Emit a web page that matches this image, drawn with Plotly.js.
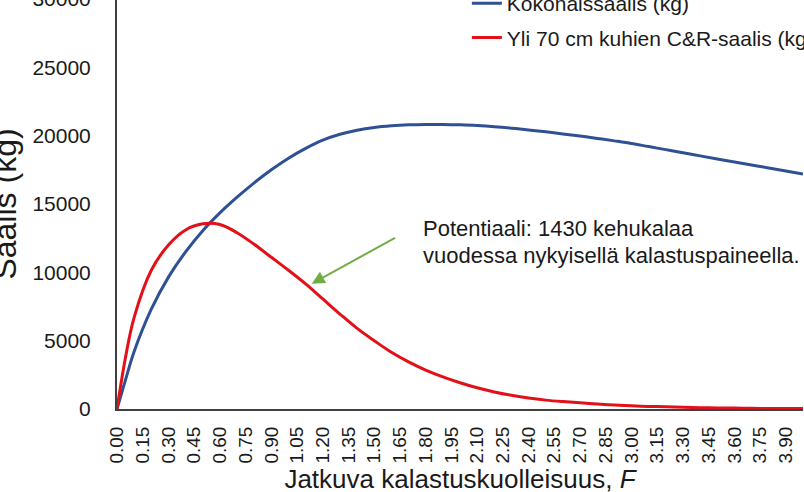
<!DOCTYPE html>
<html>
<head>
<meta charset="utf-8">
<script src="https://cdn.plot.ly/plotly-3.0.1.min.js"></script>
<style>
  html, body { margin: 0; padding: 0; overflow: hidden; background: #fff; }
  #chart { position: absolute; left: -40px; top: -30px; width: 880px; height: 540px; }
</style>
</head>
<body>
<div id="chart"></div>
<script>
// fishing mortality F (x) and catches in kg
var F = [0, 0.05, 0.1, 0.2, 0.3, 0.4, 0.5, 0.6, 0.7, 0.8, 0.9, 1.0,
         1.1, 1.2, 1.3, 1.4, 1.5, 1.6, 1.7, 1.8, 1.9, 2.0,
         2.1, 2.2, 2.3, 2.4, 2.5, 2.6, 2.7, 2.8, 2.9, 3.0,
         3.1, 3.2, 3.3, 3.4, 3.5, 3.6, 3.7, 3.8, 3.9, 4.0];

var kokonaissaalis = [0, 2150, 4200, 7300, 9650, 11500, 13050, 14350, 15500, 16550, 17500, 18350,
                      19070, 19670, 20100, 20400, 20600, 20720, 20790, 20820, 20820, 20790,
                      20740, 20660, 20550, 20420, 20280, 20130, 19970, 19800, 19620, 19430,
                      19200, 18980, 18750, 18520, 18300, 18080, 17860, 17640, 17420, 17200];

var crSaalis = [0, 3800, 6700, 10150, 12000, 13100, 13550, 13500, 12900, 12050, 11100, 10150,
                9150, 8050, 6950, 5900, 5000, 4150, 3450, 2850, 2350, 1920,
                1550, 1250, 1000, 800, 650, 540, 450, 370, 290, 230,
                190, 160, 130, 100, 80, 70, 50, 40, 30, 30];

var tickVals = [0, 0.15, 0.3, 0.45, 0.6, 0.75, 0.9, 1.05, 1.2, 1.35, 1.5, 1.65, 1.8, 1.95,
                2.1, 2.25, 2.4, 2.55, 2.7, 2.85, 3.0, 3.15, 3.3, 3.45, 3.6, 3.75, 3.9];
var tickText = ['0.00', '0.15', '0.30', '0.45', '0.60', '0.75', '0.90', '1.05', '1.20', '1.35', '1.50', '1.65', '1.80', '1.95',
                '2.10', '2.25', '2.40', '2.55', '2.70', '2.85', '3.00', '3.15', '3.30', '3.45', '3.60', '3.75', '3.90'];
var yTicks = [0, 5000, 10000, 15000, 20000, 25000, 30000];

var noteLines = ['Potentiaali: 1430 kehukalaa', 'vuodessa nykyisellä kalastuspaineella.'];

var textColor = '#1a1a1a';

var trace1 = {
  x: F,
  y: kokonaissaalis,
  name: 'Kokonaissaalis (kg)',
  legendgroup: 'a',
  type: 'scatter',
  mode: 'lines',
  line: { color: '#2F5193', width: 3, shape: 'spline', smoothing: 1 }
};

var trace2 = {
  x: F,
  y: crSaalis,
  name: 'Yli 70 cm kuhien C&R-saalis (kg)',
  legendgroup: 'b',
  type: 'scatter',
  mode: 'lines',
  line: { color: '#E3101A', width: 3, shape: 'spline', smoothing: 1 }
};

var layout = {
  width: 880,
  height: 540,
  margin: { l: 157, r: 37, t: 29, b: 101 },
  paper_bgcolor: '#fff',
  plot_bgcolor: '#fff',
  font: { family: 'Liberation Sans, Arial, sans-serif', color: textColor },
  showlegend: true,
  legend: {
    x: 0.51, y: 1.039, xanchor: 'left', yanchor: 'top',
    bgcolor: 'rgba(0,0,0,0)',
    font: { size: 21, color: textColor },
    traceorder: 'grouped',
    tracegroupgap: 4
  },
  xaxis: {
    range: [0, 4.0],
    showline: true, linecolor: '#404040', linewidth: 2,
    showgrid: false, zeroline: false,
    ticks: 'outside', ticklen: 8, tickcolor: 'rgba(0,0,0,0)',
    tickmode: 'array', tickvals: tickVals, ticktext: tickText,
    tickangle: -90,
    tickfont: { size: 19, color: textColor },
    title: { text: 'Jatkuva kalastuskuolleisuus, <i>F</i>', font: { size: 26, color: textColor }, standoff: 6 }
  },
  yaxis: {
    range: [0, 30000],
    showline: true, linecolor: '#404040', linewidth: 2,
    showgrid: false, zeroline: false,
    ticks: 'outside', ticklen: 20, tickcolor: 'rgba(0,0,0,0)',
    tickmode: 'array', tickvals: yTicks,
    tickformat: 'd',
    tickfont: { size: 21, color: textColor },
    title: { text: 'Saalis (kg)', font: { size: 32, color: textColor }, standoff: 6 }
  },
  annotations: [
    {
      x: 1.773, y: 13240, xref: 'x', yref: 'y',
      xanchor: 'left', yanchor: 'middle', align: 'left',
      showarrow: false, text: noteLines[0],
      font: { size: 22, color: textColor }
    },
    {
      x: 1.773, y: 11250, xref: 'x', yref: 'y',
      xanchor: 'left', yanchor: 'middle', align: 'left',
      showarrow: false, text: noteLines[1],
      font: { size: 22, color: textColor }
    },
    {
      x: 1.135, y: 9170, xref: 'x', yref: 'y',
      ax: 1.63, ay: 12580, axref: 'x', ayref: 'y',
      text: '',
      showarrow: true, arrowhead: 2, arrowsize: 1.3, arrowwidth: 2,
      arrowcolor: '#70AD47', standoff: 0
    }
  ]
};

Plotly.newPlot('chart', [trace1, trace2], layout, { displayModeBar: false, staticPlot: true });
</script>
</body>
</html>
